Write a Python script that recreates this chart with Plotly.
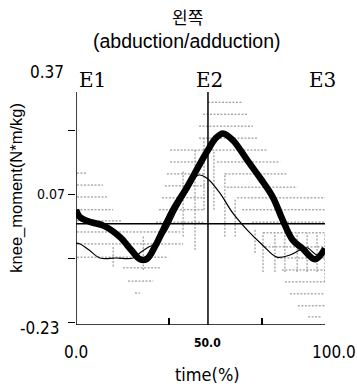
import plotly.graph_objects as go

# ---------------- data ----------------
time_thick = [0, 1.6, 6, 11, 17.7, 22, 25.7, 28.5, 32, 35, 39, 44.6, 50, 53, 56, 59, 63, 68.7, 74, 79, 83, 87, 91, 96, 100]
moment_thick = [0.033, 0.016, 0.004, -0.004, -0.031, -0.06, -0.083, -0.082, -0.05, -0.014, 0.033, 0.086, 0.143, 0.173, 0.2, 0.212, 0.196, 0.15, 0.107, 0.063, 0.009, -0.038, -0.058, -0.083, -0.058]

time_thin = [0, 1.6, 5, 9.6, 16, 23, 25.7, 29, 32.5, 36.5, 40.5, 45.8, 49, 52.6, 57.8, 63, 68.7, 75, 80.7, 86, 92.7, 96.8, 100]
moment_thin = [-0.045, -0.047, -0.06, -0.08, -0.08, -0.08, -0.068, -0.055, -0.045, -0.014, 0.033, 0.086, 0.114, 0.107, 0.072, 0.025, -0.014, -0.05, -0.078, -0.073, -0.056, -0.073, -0.061]

# spread (horizontal dotted ranges): level, start, end
spread_level = [0.119, 0.091, 0.063, 0.033, 0.007, -0.019, -0.047, -0.078, -0.103, -0.134, -0.162,
                0.173, 0.145, 0.117, 0.089, 0.061, 0.033, 0.004,
                0.285, 0.257, 0.229, 0.201, 0.173, 0.145, 0.117, 0.086, 0.061, 0.033, 0.004,
                -0.021, -0.054, -0.08, -0.108, -0.136, -0.164, -0.192, -0.218]
spread_start = [0.4, 0.4, 0.4, 0.4, 0.4, 0.4, 0.4, 0.4, 18.9, 20.9, 23.7,
                37.8, 37.8, 36.5, 35.7, 34.5, 33.3, 32.1,
                53, 51, 49.4, 49.4, 51.8, 56.6, 59.8, 60.6, 64.7, 66.7, 70.7,
                75.1, 75.9, 80.7, 82.7, 83.9, 85.9, 89.1, 93.2]
spread_end = [4.4, 10.8, 12.9, 14.9, 18.5, 41.8, 43, 37, 33.7, 31, 25.7,
              51.8, 51.8, 51.8, 51.8, 51.8, 51.8, 51.8,
              67.1, 69.1, 71.1, 72.7, 77.1, 82, 84.7, 88.8, 100, 100, 100,
              100, 100, 100, 100, 100, 100, 100, 98.4]

# vertical dotted ranges: position, low, high
vspread_pos = [14.9, 27, 43, 47.8, 51.4, 55.4, 59.8, 63.9, 71.9, 75.1, 79.9, 83.9, 88.8, 92.8, 96.8, 100]
vspread_low = [-0.1, -0.108, -0.03, -0.061, 0.033, 0.033, -0.03, -0.03, -0.068, -0.113, -0.113, -0.113, -0.113, -0.113, -0.113, -0.136]
vspread_high = [-0.054, -0.026, 0.126, 0.173, 0.203, 0.173, 0.119, 0.06, -0.014, -0.021, -0.021, -0.021, -0.021, -0.021, -0.021, -0.021]

event_names = ["E1", "E2", "E3"]
event_pos = [6.8, 53.8, 98.8]
e2_time = 53.0

x_tick_text = ["0.0", "50.0", "100.0"]
x_tick_pos = [0, 53.0, 103.5]
y_tick_text = ["0.37", "0.07", "-0.23"]
y_tick_pos = [0.357, 0.07, -0.243]

Y_MIN, Y_MAX = -0.237, 0.37
X_MIN, X_MAX = 0, 100
AXIS_TOP = 0.309

fig = go.Figure()

# gray dotted spread segments
hx, hy = [], []
for lv, s, e in zip(spread_level, spread_start, spread_end):
    hx += [s, e, None]
    hy += [lv, lv, None]
for p, lo, hi in zip(vspread_pos, vspread_low, vspread_high):
    hx += [p, p, None]
    hy += [lo, hi, None]
fig.add_trace(go.Scatter(x=hx, y=hy, mode="lines",
                         line=dict(color="#858585", width=1, dash="2px,1.5px"),
                         hoverinfo="skip", showlegend=False))

fig.add_trace(go.Scatter(x=time_thin, y=moment_thin, mode="lines",
                         line=dict(color="black", width=1.2, shape="spline"),
                         showlegend=False))
fig.add_trace(go.Scatter(x=time_thick, y=moment_thick, mode="lines",
                         line=dict(color="black", width=6.5, shape="spline"),
                         showlegend=False))

# axis-like lines
fig.add_shape(type="line", x0=0, x1=0, y0=Y_MIN, y1=AXIS_TOP, line=dict(color="black", width=1.5))
fig.add_shape(type="line", x0=e2_time, x1=e2_time, y0=Y_MIN, y1=AXIS_TOP, line=dict(color="black", width=1.5))
fig.add_shape(type="line", x0=-1.5, x1=100, y0=Y_MIN, y1=Y_MIN, line=dict(color="black", width=1.5))
fig.add_shape(type="line", x0=0, x1=100, y0=0, y1=0, line=dict(color="black", width=1.5))

narrow = "DejaVu Sans Condensed, Liberation Sans Narrow, Arial Narrow, Liberation Sans"


def xp(v):
    return (v - X_MIN) / (X_MAX - X_MIN)


def yp(v):
    return (v - Y_MIN) / (Y_MAX - Y_MIN)


ann = []
for name, p in zip(event_names, event_pos):
    ann.append(dict(x=xp(p), y=0.946, xref="paper", yref="paper", text=name, showarrow=False,
                    font=dict(family="DejaVu Serif, Liberation Serif, serif", size=20, color="black"),
                    xanchor="center", yanchor="middle"))
sizes_x = [17, 12, 17]
shifts_x = [-27, -18, -27]
for t, p, s, sh in zip(x_tick_text, x_tick_pos, sizes_x, shifts_x):
    ann.append(dict(x=xp(p), y=0, xref="paper", yref="paper", text=("<b>%s</b>" % t) if s < 15 else t,
                    showarrow=False, font=dict(family=narrow, size=s, color="black"),
                    xanchor="center", yanchor="middle", yshift=sh))
sizes_y = [17, 14, 17]
xsh_y = [-10, -9, -14]
for t, p, s, xs in zip(y_tick_text, y_tick_pos, sizes_y, xsh_y):
    ann.append(dict(x=0, y=yp(p), xref="paper", yref="paper", text=t, showarrow=False,
                    font=dict(family=narrow, size=s, color="black"),
                    xanchor="right", yanchor="middle", xshift=xs))
ann.append(dict(x=xp(e2_time), y=-0.193, xref="paper", yref="paper",
                text="time(%)", showarrow=False, font=dict(family=narrow, size=18, color="black"),
                xanchor="center", yanchor="middle"))
ann.append(dict(x=-0.237, y=0.53, xref="paper", yref="paper", text="knee_moment(N*m/kg)",
                showarrow=False, textangle=-90, font=dict(family="Liberation Sans, Arial", size=16.5, color="black"),
                xanchor="center", yanchor="middle"))
ann.append(dict(x=0.447, y=1.19, xref="paper", yref="paper", text="왼쪽", showarrow=False,
                font=dict(family="Noto Sans CJK KR", size=17, color="black"),
                xanchor="center", yanchor="middle"))
ann.append(dict(x=0.447, y=1.095, xref="paper", yref="paper", text="(abduction/adduction)", showarrow=False,
                font=dict(family="Liberation Sans, Arial", size=19.5, color="black"),
                xanchor="center", yanchor="middle"))

fig.update_layout(
    width=357, height=388,
    margin=dict(l=76, r=32, t=66, b=63),
    paper_bgcolor="white", plot_bgcolor="white",
    annotations=ann,
    xaxis=dict(range=[X_MIN, X_MAX], showgrid=False, zeroline=False, showline=False,
               tickvals=[0, 37.3, 74.7], ticks="inside", ticklen=7, tickwidth=1.5,
               tickcolor="black", showticklabels=False),
    yaxis=dict(range=[Y_MIN, Y_MAX], showgrid=False, zeroline=False, showline=False,
               tickvals=[0.22, 0.07, -0.08, -0.23], ticks="outside", ticklen=7, tickwidth=1.2,
               tickcolor="black", showticklabels=False),
)

fig.write_html("out.html")
